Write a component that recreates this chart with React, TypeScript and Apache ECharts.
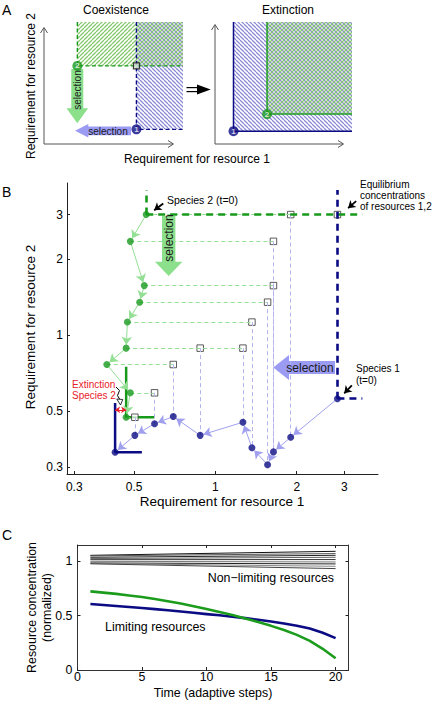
import React, { useEffect, useRef } from "react";
import * as echarts from "echarts";

const FONT = '"Liberation Sans", Arial, Helvetica, sans-serif';
const NAVY = "#0b0b84";
const GREEN = "#17991b";
const LIGHT_GREEN = "#93df93";
const LAVENDER = "#a0a0ef";
const HATCH_GREEN = "#86c86e";
const HATCH_BLUE = "#8a8ad4";
const ARROW_GREEN = "#8ce08c";
const ARROW_BLUE = "#9b9bf3";

// ---------- Panel A: schematic positions (arbitrary units 0..10) ----------
const schematicMax = 10;
const coexSpecies2 = [2.4, 6.4];
const coexSpecies1 = [6.65, 1.2];
const extSpecies1 = [1.35, 1.05];
const extSpecies2 = [3.8, 2.45];

// ---------- Panel B: requirements (log-log) ----------
const resourceRange = [0.282, 4.0];
const resourceTicks = [0.3, 0.5, 1, 2, 3];
const species1R1 = [2.83, 1.9, 1.64, 1.56, 1.365, 1.264, 0.878, 0.698, 0.595, 0.503, 0.425];
const species1R2 = [0.56, 0.394, 0.345, 0.307, 0.358, 0.452, 0.401, 0.476, 0.446, 0.401, 0.344];
const species2R1 = [0.554, 0.484, 0.545, 0.524, 0.472, 0.467, 0.396, 0.484, 0.467];
const species2R2 = [3.0, 2.35, 1.57, 1.35, 1.126, 0.888, 0.765, 0.591, 0.473];
// equilibrium concentrations: R1 set by species 1 point, R2 set by species 2 point
const equilibriumFromSp1 = [0, 1, 2, 2, 3, 4, 5, 6, 7, 8, 9];
const equilibriumFromSp2 = [0, 0, 1, 2, 3, 4, 5, 5, 6, 7, 8];
const initialLineEnd = 3.5;
const initialLineTop = 3.75;
const sp2FinalTop = 0.75;
const sp2FinalRight = 0.594;
const sp1FinalTop = 0.538;
const sp1FinalRight = 0.534;
const extinctionGapR2 = 0.506;
const annotationArrows = [
  { tail: [0.641, 3.32], tip: [0.593, 3.12] },
  { tail: [3.32, 3.39], tip: [3.1, 3.18] },
  { tail: [3.2, 0.632], tip: [3.0, 0.588] },
];

// ---------- Panel C: resource concentrations ----------
const timeTicks = [0, 5, 10, 15, 20];
const concTicks = [0, 0.5, 1];
const timeSteps = [1, 2, 3, 4, 5, 6, 7, 8, 9, 10, 11, 12, 13, 14, 15, 16, 17, 18, 19, 20];
const limitingSp1 = [0.607, 0.598, 0.589, 0.58, 0.57, 0.56, 0.549, 0.538, 0.526, 0.514, 0.503, 0.49, 0.477, 0.462, 0.446, 0.428, 0.407, 0.381, 0.343, 0.293];
const limitingSp2 = [0.723, 0.712, 0.7, 0.686, 0.671, 0.653, 0.633, 0.611, 0.587, 0.561, 0.534, 0.505, 0.474, 0.441, 0.406, 0.368, 0.323, 0.268, 0.195, 0.108];
const nonLimitingTimes = [1, 20];
const nonLimitingStart = [1.055, 1.05, 1.037, 1.025, 1.015, 1.0, 0.985, 0.98, 0.977];
const nonLimitingEnd = [1.092, 1.071, 1.055, 1.037, 1.016, 0.994, 0.976, 0.954, 0.933];
const nonLimitingShades = ["#111", "#555", "#222", "#666", "#333", "#777", "#222", "#888", "#444"];

const L = (v: number) => Math.log10(v);

// layout of panel B grid
const B_LEFT = 67, B_TOP = 183, B_W = 311, B_H = 291;

function hatch(color: string, dir: string) {
  const s = 4;
  const c = document.createElement("canvas");
  c.width = s;
  c.height = s;
  const ctx = c.getContext("2d")!;
  ctx.strokeStyle = color;
  ctx.lineWidth = 1.25;
  ctx.beginPath();
  for (let k = -1; k <= 1; k++) {
    if (dir === "/") {
      ctx.moveTo(k * s, s);
      ctx.lineTo(k * s + s, 0);
    } else {
      ctx.moveTo(k * s, 0);
      ctx.lineTo(k * s + s, s);
    }
  }
  ctx.stroke();
  return { image: c.toDataURL(), repeat: "repeat", imageWidth: s, imageHeight: s };
}

function blockArrow(tail: number[], tip: number[], bw: number, hw: number, hl: number) {
  const dx = tip[0] - tail[0], dy = tip[1] - tail[1];
  const len = Math.hypot(dx, dy);
  const ux = dx / len, uy = dy / len;
  const nx = -uy, ny = ux;
  const bx = tip[0] - ux * hl, by = tip[1] - uy * hl;
  return [
    [tail[0] + nx * bw, tail[1] + ny * bw],
    [bx + nx * bw, by + ny * bw],
    [bx + nx * hw, by + ny * hw],
    tip,
    [bx - nx * hw, by - ny * hw],
    [bx - nx * bw, by - ny * bw],
    [tail[0] - nx * bw, tail[1] - ny * bw],
  ];
}

function txt(x: number, y: number, text: string, size: number, align = "center", fill = "#000", rotation = 0) {
  return {
    type: "text",
    x,
    y,
    rotation,
    z: 20,
    silent: true,
    style: { text, fontSize: size, fontFamily: FONT, fill, align, verticalAlign: "middle" },
  };
}

function buildOption() {
  const greenHatch = hatch(HATCH_GREEN, "/");
  const blueHatch = hatch(HATCH_BLUE, "\\");
  const bLo = L(resourceRange[0]);
  const bHi = L(resourceRange[1]);
  const pxX = B_W / (bHi - bLo);
  const pxY = B_H / (bHi - bLo);

  const P = (r1: number, r2: number) => [L(r1), L(r2)];
  const ml = (a: number[], b: number[]) => [{ coord: a }, { coord: b }];
  const shortEnd = (a: number[], b: number[], d: number) => {
    const dx = (b[0] - a[0]) * pxX, dy = (b[1] - a[1]) * pxY;
    const len = Math.hypot(dx, dy);
    return [b[0] - (dx / len) * d / pxX, b[1] - (dy / len) * d / pxY];
  };
  const trajectory = (r1: number[], r2: number[]) => {
    const out: any[] = [];
    for (let i = 0; i < r1.length - 1; i++) {
      const a = P(r1[i], r2[i]);
      const b = P(r1[i + 1], r2[i + 1]);
      out.push(ml(shortEnd(b, a, 3), shortEnd(a, b, 3.5)));
    }
    return out;
  };

  const eqR1 = equilibriumFromSp1.map((i) => species1R1[i]);
  const eqR2 = equilibriumFromSp2.map((j) => species2R2[j]);
  const greenGuides: any[] = [];
  const blueGuides: any[] = [];
  for (let k = 1; k < eqR1.length; k++) {
    const g = equilibriumFromSp2[k];
    const b = equilibriumFromSp1[k];
    greenGuides.push(ml(P(species2R1[g], eqR2[k]), P(eqR1[k], eqR2[k])));
    blueGuides.push(ml(P(eqR1[k], eqR2[k]), P(eqR1[k], species1R2[b])));
  }

  const baseML = {
    silent: true,
    symbol: ["none", "none"],
    label: { show: false },
    emphasis: { disabled: true },
    animation: false,
  };

  const bx = 2, by = 2;
  const s1x0 = species1R1[0], s1y0 = species1R2[0];
  const s2x0 = species2R1[0], s2y0 = species2R2[0];
  const g8x = species2R1[species2R1.length - 1], g8y = species2R2[species2R2.length - 1];
  const b10x = species1R1[species1R1.length - 1], b10y = species1R2[species1R2.length - 1];

  const logFmt = (v: number) => String(parseFloat(Math.pow(10, v).toPrecision(2)));
  const tickStyle = { color: "#222", width: 1 };
  const axisLabelBase = { color: "#000", fontFamily: FONT };

  const series: any[] = [
    // ---------------- Panel A left (coexistence) ----------------
    {
      type: "line", xAxisIndex: 0, yAxisIndex: 0, z: 3, silent: true, symbol: "none",
      data: [[coexSpecies1[0], schematicMax], coexSpecies1, [schematicMax, coexSpecies1[1]]],
      lineStyle: { color: NAVY, width: 1.4, type: [4, 2.5] },
      markArea: {
        silent: true, label: { show: false }, itemStyle: { color: blueHatch, borderWidth: 0 },
        data: [[{ coord: coexSpecies1 }, { coord: [schematicMax, schematicMax] }]],
      },
    },
    {
      type: "line", xAxisIndex: 0, yAxisIndex: 0, z: 3, silent: true, symbol: "none",
      data: [[coexSpecies2[0], schematicMax], coexSpecies2, [schematicMax, coexSpecies2[1]]],
      lineStyle: { color: GREEN, width: 1.4, type: [4, 2.5] },
      markArea: {
        silent: true, label: { show: false }, itemStyle: { color: greenHatch, borderWidth: 0 },
        data: [[{ coord: coexSpecies2 }, { coord: [schematicMax, schematicMax] }]],
      },
    },
    {
      type: "scatter", xAxisIndex: 0, yAxisIndex: 0, z: 6, silent: true, symbol: "rect", symbolSize: 6,
      data: [[coexSpecies1[0], coexSpecies2[1]]],
      itemStyle: { color: "#cfe0cf", borderColor: "#111", borderWidth: 1.2 },
    },
    {
      type: "scatter", xAxisIndex: 0, yAxisIndex: 0, z: 7, silent: true, symbolSize: 10,
      label: { show: true, position: "inside", color: "#fff", fontSize: 8, fontWeight: "bold", fontFamily: FONT },
      data: [
        { value: coexSpecies2, itemStyle: { color: GREEN }, label: { formatter: "2" } },
        { value: coexSpecies1, itemStyle: { color: NAVY }, label: { formatter: "1" } },
      ],
    },
    // ---------------- Panel A right (extinction) ----------------
    {
      type: "line", xAxisIndex: 1, yAxisIndex: 1, z: 3, silent: true, symbol: "none",
      data: [[extSpecies1[0], schematicMax], extSpecies1, [schematicMax, extSpecies1[1]]],
      lineStyle: { color: NAVY, width: 1.5 },
      markArea: {
        silent: true, label: { show: false }, itemStyle: { color: blueHatch, borderWidth: 0 },
        data: [[{ coord: extSpecies1 }, { coord: [schematicMax, schematicMax] }]],
      },
    },
    {
      type: "line", xAxisIndex: 1, yAxisIndex: 1, z: 3, silent: true, symbol: "none",
      data: [[extSpecies2[0], schematicMax], extSpecies2, [schematicMax, extSpecies2[1]]],
      lineStyle: { color: "#22a022", width: 1.5 },
      markArea: {
        silent: true, label: { show: false }, itemStyle: { color: greenHatch, borderWidth: 0 },
        data: [[{ coord: extSpecies2 }, { coord: [schematicMax, schematicMax] }]],
      },
    },
    {
      type: "scatter", xAxisIndex: 1, yAxisIndex: 1, z: 7, silent: true, symbolSize: 10,
      label: { show: true, position: "inside", color: "#fff", fontSize: 8, fontWeight: "bold", fontFamily: FONT },
      data: [
        { value: extSpecies2, itemStyle: { color: GREEN }, label: { formatter: "2" } },
        { value: extSpecies1, itemStyle: { color: NAVY }, label: { formatter: "1" } },
      ],
    },
    // ---------------- Panel B ----------------
    {
      type: "scatter", xAxisIndex: bx, yAxisIndex: by, z: 1, data: [],
      markLine: { ...baseML, lineStyle: { color: LIGHT_GREEN, width: 1, type: [4, 3] }, data: greenGuides },
    },
    {
      type: "scatter", xAxisIndex: bx, yAxisIndex: by, z: 1, data: [],
      markLine: { ...baseML, lineStyle: { color: "#b4b4ec", width: 1, type: [4, 3] }, data: blueGuides },
    },
    {
      type: "scatter", xAxisIndex: bx, yAxisIndex: by, z: 2, data: [],
      markLine: {
        ...baseML, lineStyle: { color: GREEN, width: 2.6, type: [7, 5] },
        data: [ml(P(s2x0, s2y0), P(initialLineEnd, s2y0)), ml(P(s2x0, s2y0), P(s2x0, initialLineTop))],
      },
    },
    {
      type: "scatter", xAxisIndex: bx, yAxisIndex: by, z: 2, data: [],
      markLine: {
        ...baseML, lineStyle: { color: NAVY, width: 2.6, type: [7, 5] },
        data: [ml(P(s1x0, s1y0), P(initialLineEnd, s1y0)), ml(P(s1x0, s1y0), P(s1x0, initialLineTop))],
      },
    },
    {
      type: "line", xAxisIndex: bx, yAxisIndex: by, z: 2, silent: true, symbol: "none",
      data: [P(g8x, sp2FinalTop), P(g8x, g8y), P(sp2FinalRight, g8y)],
      lineStyle: { color: GREEN, width: 2.5 },
    },
    {
      type: "line", xAxisIndex: bx, yAxisIndex: by, z: 2, silent: true, symbol: "none",
      data: [P(b10x, sp1FinalTop), P(b10x, b10y), P(sp1FinalRight, b10y)],
      lineStyle: { color: NAVY, width: 2.5 },
    },
    {
      type: "scatter", xAxisIndex: bx, yAxisIndex: by, z: 3, data: [],
      markLine: {
        ...baseML, symbol: ["none", "arrow"], symbolSize: 8,
        lineStyle: { color: LIGHT_GREEN, width: 1, type: "solid" },
        data: trajectory(species2R1, species2R2),
      },
    },
    {
      type: "scatter", xAxisIndex: bx, yAxisIndex: by, z: 3, data: [],
      markLine: {
        ...baseML, symbol: ["none", "arrow"], symbolSize: 8,
        lineStyle: { color: LAVENDER, width: 1, type: "solid" },
        data: trajectory(species1R1, species1R2),
      },
    },
    {
      type: "scatter", xAxisIndex: bx, yAxisIndex: by, z: 4, silent: true, symbol: "rect", symbolSize: 6.5,
      data: eqR1.map((r1, k) => P(r1, eqR2[k])),
      itemStyle: { color: "#fff", borderColor: "#333", borderWidth: 1 },
    },
    {
      type: "scatter", xAxisIndex: bx, yAxisIndex: by, z: 5, silent: true, symbolSize: 7,
      data: species1R1.map((r1, i) => P(r1, species1R2[i])),
      itemStyle: { color: NAVY },
    },
    {
      type: "scatter", xAxisIndex: bx, yAxisIndex: by, z: 5, silent: true, symbolSize: 7,
      data: species2R1.map((r1, i) => P(r1, species2R2[i])),
      itemStyle: { color: GREEN },
    },
    {
      type: "scatter", xAxisIndex: bx, yAxisIndex: by, z: 6, data: [],
      markLine: {
        ...baseML, symbol: ["none", "arrow"], symbolSize: 7,
        lineStyle: { color: "#000", width: 1.8, type: "solid" },
        data: annotationArrows.map((a) => ml(P(a.tail[0], a.tail[1]), P(a.tip[0], a.tip[1]))),
      },
    },
    {
      type: "scatter", xAxisIndex: bx, yAxisIndex: by, z: 6, data: [],
      markLine: {
        ...baseML, symbol: ["arrow", "arrow"], symbolSize: 5,
        lineStyle: { color: "#e8202a", width: 1, type: "solid" },
        data: [ml(P(b10x, extinctionGapR2), P(g8x, extinctionGapR2))],
      },
    },
    // ---------------- Panel C ----------------
    ...nonLimitingStart.map((v0, i) => ({
      type: "line", xAxisIndex: 3, yAxisIndex: 3, z: 2, silent: true, symbol: "none",
      data: [[nonLimitingTimes[0], v0], [nonLimitingTimes[1], nonLimitingEnd[i]]],
      lineStyle: { color: nonLimitingShades[i], width: 1 },
    })),
    {
      type: "line", xAxisIndex: 3, yAxisIndex: 3, z: 3, silent: true, symbol: "none",
      data: timeSteps.map((t, i) => [t, limitingSp1[i]]),
      lineStyle: { color: NAVY, width: 2.6, join: "round" },
    },
    {
      type: "line", xAxisIndex: 3, yAxisIndex: 3, z: 3, silent: true, symbol: "none",
      data: timeSteps.map((t, i) => [t, limitingSp2[i]]),
      lineStyle: { color: "#1c9c1c", width: 2.6, join: "round" },
    },
  ];

  const graphics: any[] = [
    // panel labels and titles
    txt(2, 10, "A", 14, "left"),
    txt(116, 10, "Coexistence", 12),
    txt(288, 10, "Extinction", 12),
    txt(31, 86, "Requirement for resource 2", 12, "center", "#000", Math.PI / 2),
    txt(197, 159, "Requirement for resource 1", 12),
    // panel A axes
    { type: "polyline", silent: true, z: 4, shape: { points: [[44, 28], [44, 144], [173, 144]] }, style: { stroke: "#555", fill: "none", lineWidth: 1 } },
    { type: "polyline", silent: true, z: 4, shape: { points: [[40.5, 33], [44, 27.5], [47.5, 33]] }, style: { stroke: "#555", fill: "none", lineWidth: 1 } },
    { type: "polyline", silent: true, z: 4, shape: { points: [[168, 140.5], [173.5, 144], [168, 147.5]] }, style: { stroke: "#555", fill: "none", lineWidth: 1 } },
    { type: "polyline", silent: true, z: 4, shape: { points: [[215, 25], [215, 144], [343, 144]] }, style: { stroke: "#555", fill: "none", lineWidth: 1 } },
    { type: "polyline", silent: true, z: 4, shape: { points: [[211.5, 30], [215, 24.5], [218.5, 30]] }, style: { stroke: "#555", fill: "none", lineWidth: 1 } },
    { type: "polyline", silent: true, z: 4, shape: { points: [[338, 140.5], [343.5, 144], [338, 147.5]] }, style: { stroke: "#555", fill: "none", lineWidth: 1 } },
    // double arrow between schematics
    { type: "line", silent: true, shape: { x1: 186.5, y1: 87.6, x2: 199, y2: 87.6 }, style: { stroke: "#000", lineWidth: 1.2 } },
    { type: "line", silent: true, shape: { x1: 186.5, y1: 91.6, x2: 199, y2: 91.6 }, style: { stroke: "#000", lineWidth: 1.2 } },
    { type: "polygon", silent: true, shape: { points: [[197, 84.6], [210.7, 89.6], [197, 94.6]] }, style: { fill: "#000" } },
    // selection arrows in A
    { type: "polygon", silent: true, z: 4, shape: { points: blockArrow([77.3, 69], [77.3, 123.3], 6, 10.8, 15) }, style: { fill: ARROW_GREEN } },
    txt(77.6, 90, "selection", 10, "center", "#1a1a1a", Math.PI / 2),
    { type: "polygon", silent: true, z: 4, shape: { points: blockArrow([131, 130.8], [75, 130.8], 4.4, 6.8, 13.3) }, style: { fill: ARROW_BLUE } },
    txt(108, 131, "selection", 10, "center", "#1a1a1a"),
    // panel B
    txt(2, 192, "B", 14, "left"),
    txt(30.5, 327, "Requirement for resource 2", 13.5, "center", "#000", Math.PI / 2),
    txt(222, 501, "Requirement for resource 1", 13.5),
    { type: "polygon", silent: true, z: 4, shape: { points: blockArrow([168.7, 216], [168.7, 276], 6.7, 13.7, 14.3) }, style: { fill: ARROW_GREEN } },
    txt(169, 238, "selection", 12, "center", "#1a1a1a", Math.PI / 2),
    { type: "polygon", silent: true, z: 4, shape: { points: blockArrow([335, 367.5], [273.3, 367.5], 6.5, 12.5, 15.7) }, style: { fill: ARROW_BLUE } },
    txt(310, 367.5, "selection", 12, "center", "#1a1a1a"),
    txt(167, 200, "Species 2 (t=0)", 10.5, "left"),
    txt(360, 184, "Equilibrium", 10, "left"),
    txt(360, 195, "concentrations", 10, "left"),
    txt(360, 206, "of resources 1,2", 10, "left"),
    txt(356, 368, "Species 1", 10, "left"),
    txt(356, 380, "(t=0)", 10, "left"),
    txt(72, 384.5, "Extinction", 10, "left", "#e8202a"),
    txt(72, 395, "Species 2", 10, "left", "#e8202a"),
    { type: "polyline", silent: true, z: 8, shape: { points: [[116, 387], [119.5, 390.5], [117.5, 395.5], [119.8, 399.5]] }, style: { stroke: "#000", fill: "none", lineWidth: 1 } },
    { type: "polygon", silent: true, z: 8, shape: { points: [[116.8, 399], [122.8, 399.5], [120.5, 405]] }, style: { stroke: "#000", fill: "#fff", lineWidth: 0.8 } },
    // panel C
    txt(2, 535, "C", 14, "left"),
    txt(31.7, 607.5, "Resource concentration", 12.4, "center", "#000", Math.PI / 2),
    txt(46.7, 607.5, "(normalized)", 12.4, "center", "#000", Math.PI / 2),
    txt(213, 693, "Time (adaptive steps)", 12.4),
    txt(207.7, 578.3, "Non\u2212limiting resources", 12.4, "left"),
    txt(105, 627.3, "Limiting resources", 12.4, "left"),
  ];

  const hiddenAxis = (gridIndex: number) => ({ type: "value", gridIndex, min: 0, max: schematicMax, show: false });

  return {
    animation: false,
    backgroundColor: "#fff",
    textStyle: { fontFamily: FONT },
    grid: [
      { left: 44, top: 22, width: 139, height: 122, outerBoundsMode: "none", containLabel: false },
      { left: 215, top: 22, width: 137, height: 122, outerBoundsMode: "none", containLabel: false },
      { left: B_LEFT, top: B_TOP, width: B_W, height: B_H, outerBoundsMode: "none", containLabel: false },
      { left: 77.5, top: 545, width: 271, height: 125, outerBoundsMode: "none", containLabel: false },
    ],
    xAxis: [
      hiddenAxis(0),
      hiddenAxis(1),
      {
        type: "value", gridIndex: 2, min: bLo, max: bHi, position: "bottom",
        axisLine: { show: true, onZero: false, lineStyle: { color: "#222", width: 1 } },
        axisTick: { show: true, inside: true, length: 3, customValues: resourceTicks.map(L), lineStyle: tickStyle },
        axisLabel: { ...axisLabelBase, fontSize: 12, margin: 7, customValues: resourceTicks.map(L), formatter: logFmt },
        splitLine: { show: false },
      },
      {
        type: "value", gridIndex: 3, min: 0, max: 21, position: "bottom",
        axisLine: { show: true, onZero: false, lineStyle: { color: "#333", width: 1 } },
        axisTick: { show: true, inside: true, length: 3, customValues: timeTicks, lineStyle: tickStyle },
        axisLabel: { ...axisLabelBase, fontSize: 12.4, margin: 1, customValues: timeTicks },
        splitLine: { show: false },
      },
      {
        type: "value", gridIndex: 3, min: 0, max: 21, position: "top",
        axisLine: { show: true, onZero: false, lineStyle: { color: "#333", width: 1 } },
        axisTick: { show: true, inside: true, length: 3, customValues: timeTicks, lineStyle: tickStyle },
        axisLabel: { show: false },
        splitLine: { show: false },
      },
    ],
    yAxis: [
      hiddenAxis(0),
      hiddenAxis(1),
      {
        type: "value", gridIndex: 2, min: bLo, max: bHi, position: "left",
        axisLine: { show: true, onZero: false, lineStyle: { color: "#222", width: 1 } },
        axisTick: { show: true, inside: true, length: 3, customValues: resourceTicks.map(L), lineStyle: tickStyle },
        axisLabel: { ...axisLabelBase, fontSize: 12, margin: 4, customValues: resourceTicks.map(L), formatter: logFmt },
        splitLine: { show: false },
      },
      {
        type: "value", gridIndex: 3, min: 0, max: 1.15, position: "left",
        axisLine: { show: true, onZero: false, lineStyle: { color: "#333", width: 1 } },
        axisTick: { show: true, inside: true, length: 3, customValues: concTicks, lineStyle: tickStyle },
        axisLabel: { ...axisLabelBase, fontSize: 12.4, margin: 5, customValues: concTicks },
        splitLine: { show: false },
      },
      {
        type: "value", gridIndex: 3, min: 0, max: 1.15, position: "right",
        axisLine: { show: true, onZero: false, lineStyle: { color: "#333", width: 1 } },
        axisTick: { show: true, inside: true, length: 3, customValues: concTicks, lineStyle: tickStyle },
        axisLabel: { show: false },
        splitLine: { show: false },
      },
    ],
    series,
    graphic: { elements: graphics },
  };
}

export default function App() {
  const ref = useRef<HTMLDivElement>(null);
  useEffect(() => {
    document.body.style.margin = "0";
    const chart = echarts.init(ref.current!, null, { renderer: "svg", width: 432, height: 704 });
    chart.setOption(buildOption() as any);
    return () => chart.dispose();
  }, []);
  return (
    <div
      ref={ref}
      style={{ width: 432, height: 704, position: "absolute", left: 0, top: 0, background: "#fff" }}
    />
  );
}
